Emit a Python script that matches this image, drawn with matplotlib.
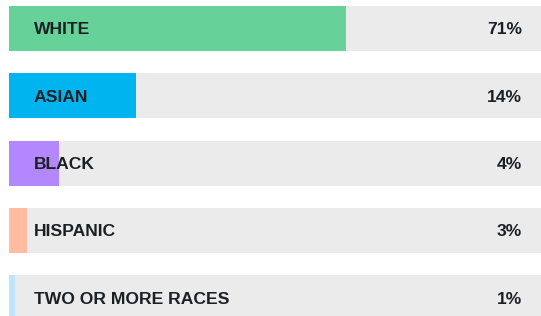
import matplotlib.pyplot as plt

groups = ["WHITE", "ASIAN", "BLACK", "HISPANIC", "TWO OR MORE RACES"]
pct_labels = ["71%", "14%", "4%", "3%", "1%"]
# bar lengths as drawn, as a share of the full grey track
bar_share = [0.633, 0.239, 0.094, 0.034, 0.011]
colors = ["#66d198", "#00b4ef", "#b388ff", "#ffbca0", "#bfe4fb"]

W, H = 541, 316
fig = plt.figure(figsize=(W / 100, H / 100), dpi=100)
ax = fig.add_axes([9 / W, 0, 1 - 9 / W, 1])
ax.set_xlim(0, 1)
ax.set_ylim(H, 0)
ax.axis("off")

pitch = 67.25
bar_h = 45
txt = "#1b2026"
for i, g in enumerate(groups):
    yc = 28.5 + pitch * i
    ax.barh(yc, 1, height=bar_h, color="#ebebeb", left=0)
    ax.barh(yc, bar_share[i], height=bar_h, color=colors[i], left=0)
    ax.text(25 / 532, yc, g, ha="left", va="center_baseline",
            fontsize=12.6, fontweight="bold", color=txt,
            family="Liberation Sans")
    ax.text(513 / 532, yc, pct_labels[i], ha="right", va="center_baseline",
            fontsize=12.6, fontweight="bold", color=txt,
            family="Liberation Sans")

fig.savefig("out.png", dpi=100)
